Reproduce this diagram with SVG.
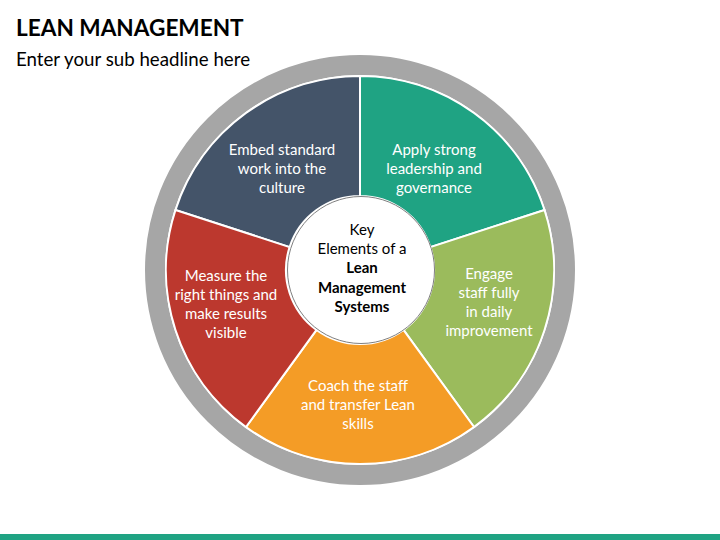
<svg xmlns="http://www.w3.org/2000/svg" width="720" height="540" viewBox="0 0 720 540">
<style>
text{font-family:Lato,"Liberation Sans",sans-serif}
.l{font-size:15px;fill:#fff;text-anchor:middle}
.c{font-size:15px;fill:#000;text-anchor:middle}
.b{font-weight:700}
.s{stroke:#fff;stroke-width:2;stroke-linejoin:miter}
</style>
<rect width="720" height="540" fill="#fff"/>
<text x="16" y="36" font-size="22.6" font-weight="700" fill="#000">LEAN MANAGEMENT</text>
<text x="16" y="66" font-size="18.7" fill="#000">Enter your sub headline here</text>
<circle cx="360" cy="270" r="205" fill="none" stroke="#a6a6a6" stroke-width="20"/>
<g id="seg-embed"><path class="s" fill="#445469" d="M360 76A194 194 0 0 0 175.500 210L289.600 247.100A74 74 0 0 1 360 196Z"/><text class="l" x="282" y="155">Embed standard</text><text class="l" x="282" y="174">work into the</text><text class="l" x="282" y="193">culture</text></g>
<g id="seg-apply"><path class="s" fill="#1fa383" d="M360 76A194 194 0 0 1 544.500 210L430.400 247.100A74 74 0 0 0 360 196Z"/><text class="l" x="434" y="155">Apply strong</text><text class="l" x="434" y="174">leadership and</text><text class="l" x="434" y="193">governance</text></g>
<g id="seg-engage"><path class="s" fill="#9bbb5c" d="M544.500 210A194 194 0 0 1 474 427L403.500 329.900A74 74 0 0 0 430.400 247.100Z"/><text class="l" x="489" y="279">Engage</text><text class="l" x="489" y="298">staff fully</text><text class="l" x="489" y="317">in daily</text><text class="l" x="489" y="336">improvement</text></g>
<g id="seg-coach"><path class="s" fill="#f49c26" d="M474 427A194 194 0 0 1 246 427L316.500 329.900A74 74 0 0 0 403.500 329.900Z"/><text class="l" x="358" y="391">Coach the staff</text><text class="l" x="358" y="410">and transfer Lean</text><text class="l" x="358" y="429">skills</text></g>
<g id="seg-measure"><path class="s" fill="#bc382e" d="M246 427A194 194 0 0 1 175.500 210L289.600 247.100A74 74 0 0 0 316.500 329.900Z"/><text class="l" x="226" y="281">Measure the</text><text class="l" x="226" y="300">right things and</text><text class="l" x="226" y="319">make results</text><text class="l" x="226" y="338">visible</text></g>
<g id="center"><circle cx="361" cy="270" r="73.500" fill="#fff" stroke="#7f7f7f" stroke-width="1"/><text class="c" x="362" y="235">Key</text><text class="c" x="362" y="254">Elements of a</text><text class="c b" x="362" y="273">Lean</text><text class="c b" x="362" y="293">Management</text><text class="c b" x="362" y="312">Systems</text></g>
<rect id="footer" x="0" y="534" width="720" height="6" fill="#1fa383"/>
</svg>
